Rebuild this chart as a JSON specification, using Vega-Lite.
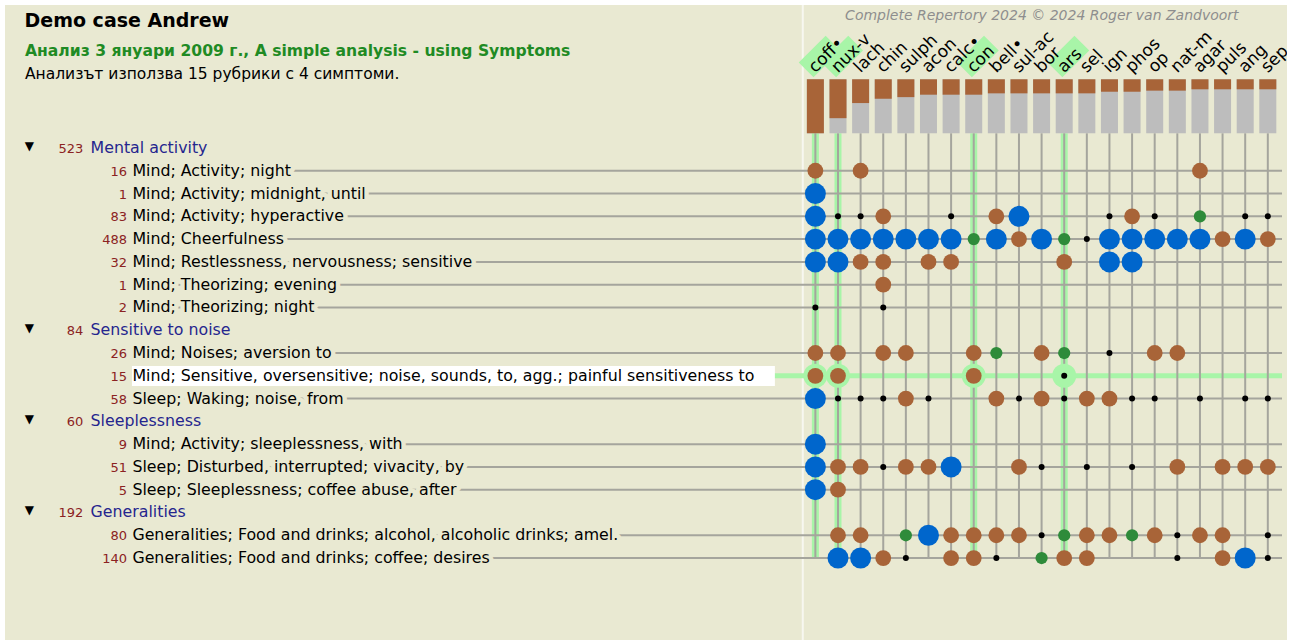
{
  "$schema": "https://vega.github.io/schema/vega-lite/v6.json",
  "width": 1282,
  "height": 635,
  "autosize": "none",
  "padding": {"left": 5, "top": 5, "right": 3, "bottom": 0},
  "background": "#FFFFFF",
  "config": {
    "view": {"fill": "#E9E9D2", "stroke": null},
    "text": {"font": "DejaVu Sans"}
  },
  "datasets": {
    "rem": [
      {"col": 0, "name": "coff•", "score": 100, "hl": true},
      {"col": 1, "name": "nux-v", "score": 72, "hl": true},
      {"col": 2, "name": "lach", "score": 44, "hl": false},
      {"col": 3, "name": "chin", "score": 36, "hl": false},
      {"col": 4, "name": "sulph", "score": 33, "hl": false},
      {"col": 5, "name": "acon", "score": 28.5, "hl": false},
      {"col": 6, "name": "calc•", "score": 28.5, "hl": false},
      {"col": 7, "name": "con", "score": 28.5, "hl": true},
      {"col": 8, "name": "bell•", "score": 26, "hl": false},
      {"col": 9, "name": "sul-ac", "score": 26, "hl": false},
      {"col": 10, "name": "bor", "score": 26, "hl": false},
      {"col": 11, "name": "ars", "score": 26, "hl": true},
      {"col": 12, "name": "sel", "score": 26, "hl": false},
      {"col": 13, "name": "ign", "score": 23, "hl": false},
      {"col": 14, "name": "phos", "score": 23, "hl": false},
      {"col": 15, "name": "op", "score": 21, "hl": false},
      {"col": 16, "name": "nat-m", "score": 21, "hl": false},
      {"col": 17, "name": "agar", "score": 18.5, "hl": false},
      {"col": 18, "name": "puls", "score": 18.5, "hl": false},
      {"col": 19, "name": "ang", "score": 18.5, "hl": false},
      {"col": 20, "name": "sep", "score": 18.5, "hl": false}
    ],
    "rows": [
      {"r": 0, "n": 523, "label": "Mental activity", "group": true},
      {"r": 1, "n": 16, "label": "Mind; Activity; night", "group": false},
      {"r": 2, "n": 1, "label": "Mind; Activity; midnight, until", "group": false},
      {"r": 3, "n": 83, "label": "Mind; Activity; hyperactive", "group": false},
      {"r": 4, "n": 488, "label": "Mind; Cheerfulness", "group": false},
      {"r": 5, "n": 32, "label": "Mind; Restlessness, nervousness; sensitive", "group": false},
      {"r": 6, "n": 1, "label": "Mind; Theorizing; evening", "group": false},
      {"r": 7, "n": 2, "label": "Mind; Theorizing; night", "group": false},
      {"r": 8, "n": 84, "label": "Sensitive to noise", "group": true},
      {"r": 9, "n": 26, "label": "Mind; Noises; aversion to", "group": false},
      {"r": 10, "n": 15, "label": "Mind; Sensitive, oversensitive; noise, sounds, to, agg.; painful sensitiveness to", "group": false},
      {"r": 11, "n": 58, "label": "Sleep; Waking; noise, from", "group": false},
      {"r": 12, "n": 60, "label": "Sleeplessness", "group": true},
      {"r": 13, "n": 9, "label": "Mind; Activity; sleeplessness, with", "group": false},
      {"r": 14, "n": 51, "label": "Sleep; Disturbed, interrupted; vivacity, by", "group": false},
      {"r": 15, "n": 5, "label": "Sleep; Sleeplessness; coffee abuse, after", "group": false},
      {"r": 16, "n": 192, "label": "Generalities", "group": true},
      {"r": 17, "n": 80, "label": "Generalities; Food and drinks; alcohol, alcoholic drinks; amel.", "group": false},
      {"r": 18, "n": 140, "label": "Generalities; Food and drinks; coffee; desires", "group": false}
    ],
    "dots": [
      {"r": 1, "col": 0, "g": 3}, {"r": 1, "col": 2, "g": 3}, {"r": 1, "col": 17, "g": 3},
      {"r": 2, "col": 0, "g": 4},
      {"r": 3, "col": 0, "g": 4}, {"r": 3, "col": 1, "g": 1}, {"r": 3, "col": 2, "g": 1}, {"r": 3, "col": 3, "g": 3}, {"r": 3, "col": 6, "g": 1}, {"r": 3, "col": 8, "g": 3}, {"r": 3, "col": 9, "g": 4}, {"r": 3, "col": 13, "g": 1}, {"r": 3, "col": 14, "g": 3}, {"r": 3, "col": 15, "g": 1}, {"r": 3, "col": 17, "g": 2}, {"r": 3, "col": 19, "g": 1}, {"r": 3, "col": 20, "g": 1},
      {"r": 4, "col": 0, "g": 4}, {"r": 4, "col": 1, "g": 4}, {"r": 4, "col": 2, "g": 4}, {"r": 4, "col": 3, "g": 4}, {"r": 4, "col": 4, "g": 4}, {"r": 4, "col": 5, "g": 4}, {"r": 4, "col": 6, "g": 4}, {"r": 4, "col": 7, "g": 2}, {"r": 4, "col": 8, "g": 4}, {"r": 4, "col": 9, "g": 3}, {"r": 4, "col": 10, "g": 4}, {"r": 4, "col": 11, "g": 2}, {"r": 4, "col": 12, "g": 1}, {"r": 4, "col": 13, "g": 4}, {"r": 4, "col": 14, "g": 4}, {"r": 4, "col": 15, "g": 4}, {"r": 4, "col": 16, "g": 4}, {"r": 4, "col": 17, "g": 4}, {"r": 4, "col": 18, "g": 3}, {"r": 4, "col": 19, "g": 4}, {"r": 4, "col": 20, "g": 3},
      {"r": 5, "col": 0, "g": 4}, {"r": 5, "col": 1, "g": 4}, {"r": 5, "col": 2, "g": 3}, {"r": 5, "col": 3, "g": 3}, {"r": 5, "col": 5, "g": 3}, {"r": 5, "col": 6, "g": 3}, {"r": 5, "col": 11, "g": 3}, {"r": 5, "col": 13, "g": 4}, {"r": 5, "col": 14, "g": 4},
      {"r": 6, "col": 3, "g": 3},
      {"r": 7, "col": 0, "g": 1}, {"r": 7, "col": 3, "g": 1},
      {"r": 9, "col": 0, "g": 3}, {"r": 9, "col": 1, "g": 3}, {"r": 9, "col": 3, "g": 3}, {"r": 9, "col": 4, "g": 3}, {"r": 9, "col": 7, "g": 3}, {"r": 9, "col": 8, "g": 2}, {"r": 9, "col": 10, "g": 3}, {"r": 9, "col": 11, "g": 2}, {"r": 9, "col": 13, "g": 1}, {"r": 9, "col": 15, "g": 3}, {"r": 9, "col": 16, "g": 3},
      {"r": 10, "col": 0, "g": 3}, {"r": 10, "col": 1, "g": 3}, {"r": 10, "col": 7, "g": 3}, {"r": 10, "col": 11, "g": 1},
      {"r": 11, "col": 0, "g": 4}, {"r": 11, "col": 1, "g": 1}, {"r": 11, "col": 2, "g": 1}, {"r": 11, "col": 3, "g": 1}, {"r": 11, "col": 4, "g": 3}, {"r": 11, "col": 5, "g": 1}, {"r": 11, "col": 8, "g": 3}, {"r": 11, "col": 9, "g": 1}, {"r": 11, "col": 10, "g": 3}, {"r": 11, "col": 11, "g": 1}, {"r": 11, "col": 12, "g": 3}, {"r": 11, "col": 13, "g": 3}, {"r": 11, "col": 14, "g": 1}, {"r": 11, "col": 15, "g": 1}, {"r": 11, "col": 17, "g": 1}, {"r": 11, "col": 19, "g": 1}, {"r": 11, "col": 20, "g": 1},
      {"r": 13, "col": 0, "g": 4},
      {"r": 14, "col": 0, "g": 4}, {"r": 14, "col": 1, "g": 3}, {"r": 14, "col": 2, "g": 3}, {"r": 14, "col": 3, "g": 1}, {"r": 14, "col": 4, "g": 3}, {"r": 14, "col": 5, "g": 3}, {"r": 14, "col": 6, "g": 4}, {"r": 14, "col": 9, "g": 3}, {"r": 14, "col": 10, "g": 1}, {"r": 14, "col": 12, "g": 1}, {"r": 14, "col": 14, "g": 1}, {"r": 14, "col": 16, "g": 3}, {"r": 14, "col": 18, "g": 3}, {"r": 14, "col": 19, "g": 3}, {"r": 14, "col": 20, "g": 3},
      {"r": 15, "col": 0, "g": 4}, {"r": 15, "col": 1, "g": 3},
      {"r": 17, "col": 1, "g": 3}, {"r": 17, "col": 2, "g": 3}, {"r": 17, "col": 4, "g": 2}, {"r": 17, "col": 5, "g": 4}, {"r": 17, "col": 6, "g": 3}, {"r": 17, "col": 7, "g": 3}, {"r": 17, "col": 8, "g": 3}, {"r": 17, "col": 9, "g": 3}, {"r": 17, "col": 10, "g": 1}, {"r": 17, "col": 11, "g": 2}, {"r": 17, "col": 12, "g": 3}, {"r": 17, "col": 13, "g": 3}, {"r": 17, "col": 14, "g": 2}, {"r": 17, "col": 15, "g": 3}, {"r": 17, "col": 16, "g": 1}, {"r": 17, "col": 17, "g": 3}, {"r": 17, "col": 18, "g": 3}, {"r": 17, "col": 20, "g": 1},
      {"r": 18, "col": 1, "g": 4}, {"r": 18, "col": 2, "g": 4}, {"r": 18, "col": 3, "g": 3}, {"r": 18, "col": 4, "g": 1}, {"r": 18, "col": 6, "g": 3}, {"r": 18, "col": 7, "g": 3}, {"r": 18, "col": 8, "g": 1}, {"r": 18, "col": 10, "g": 2}, {"r": 18, "col": 11, "g": 3}, {"r": 18, "col": 12, "g": 3}, {"r": 18, "col": 16, "g": 1}, {"r": 18, "col": 18, "g": 3}, {"r": 18, "col": 19, "g": 4}, {"r": 18, "col": 20, "g": 1}
    ]
  },
  "layer": [
    {
      "layer": [
        {
          "data": {"values": [{}]},
          "mark": {"type": "rule", "color": "#F7F7F0", "strokeWidth": 2},
          "encoding": {
            "x": {"datum": -0.557, "type": "quantitative", "scale": {"domain": [-35.601, 20.627], "nice": false, "zero": false}, "axis": null},
            "y": {"datum": -6.2775, "type": "quantitative", "scale": {"domain": [-6.2775, 21.598], "nice": false, "zero": false, "reverse": true}, "axis": null},
            "y2": {"datum": 21.598}
          }
        },
        {
          "data": {"name": "rem"},
          "transform": [{"filter": "datum.hl"}],
          "mark": {"type": "rule", "color": "#A8F5A8", "strokeWidth": 7},
          "encoding": {
            "x": {"field": "col", "type": "quantitative", "scale": {"domain": [-35.601, 20.627], "nice": false, "zero": false}, "axis": null},
            "y": {"datum": -0.645, "type": "quantitative", "scale": {"domain": [-6.2775, 21.598], "nice": false, "zero": false, "reverse": true}, "axis": null},
            "y2": {"datum": 18.0}
          }
        },
        {
          "data": {"name": "rows"},
          "transform": [{"filter": "datum.r == 10"}],
          "mark": {"type": "rule", "color": "#A8F5A8", "strokeWidth": 5},
          "encoding": {
            "x": {"datum": -30.0, "type": "quantitative", "scale": {"domain": [-35.601, 20.627], "nice": false, "zero": false}, "axis": null},
            "x2": {"datum": 20.627},
            "y": {"field": "r", "type": "quantitative", "scale": {"domain": [-6.2775, 21.598], "nice": false, "zero": false, "reverse": true}, "axis": null}
          }
        },
        {
          "data": {"name": "rem"},
          "mark": {"type": "rule", "color": "#A5A59D", "strokeWidth": 2},
          "encoding": {
            "x": {"field": "col", "type": "quantitative", "scale": {"domain": [-35.601, 20.627], "nice": false, "zero": false}, "axis": null},
            "y": {"datum": -0.645, "type": "quantitative", "scale": {"domain": [-6.2775, 21.598], "nice": false, "zero": false, "reverse": true}, "axis": null},
            "y2": {"datum": 18.0}
          }
        },
        {
          "data": {"name": "rows"},
          "transform": [{"filter": "!datum.group && datum.r != 10"}],
          "mark": {"type": "rule", "color": "#A5A59D", "strokeWidth": 2},
          "encoding": {
            "x": {"datum": -30.0, "type": "quantitative", "scale": {"domain": [-35.601, 20.627], "nice": false, "zero": false}, "axis": null},
            "x2": {"datum": 20.627},
            "y": {"field": "r", "type": "quantitative", "scale": {"domain": [-6.2775, 21.598], "nice": false, "zero": false, "reverse": true}, "axis": null}
          }
        },
        {
          "data": {"name": "rows"},
          "transform": [{"filter": "!datum.group && datum.r != 10"}],
          "mark": {"type": "text", "align": "left", "baseline": "middle", "font": "DejaVu Sans", "fontSize": 15.8, "fill": "#E9E9D2", "stroke": "#E9E9D2", "strokeWidth": 9, "strokeJoin": "round"},
          "encoding": {
            "x": {"datum": -30.19, "type": "quantitative", "scale": {"domain": [-35.601, 20.627], "nice": false, "zero": false}, "axis": null},
            "y": {"field": "r", "type": "quantitative", "scale": {"domain": [-6.2775, 21.598], "nice": false, "zero": false, "reverse": true}, "axis": null},
            "text": {"field": "label", "type": "nominal"}
          }
        },
        {
          "data": {"values": [{}]},
          "mark": {"type": "rect", "color": "#FFFFFF"},
          "encoding": {
            "x": {"datum": -30.21, "type": "quantitative", "scale": {"domain": [-35.601, 20.627], "nice": false, "zero": false}, "axis": null},
            "x2": {"datum": -1.79},
            "y": {"datum": 9.57, "type": "quantitative", "scale": {"domain": [-6.2775, 21.598], "nice": false, "zero": false, "reverse": true}, "axis": null},
            "y2": {"datum": 10.45}
          }
        },
        {
          "data": {"name": "rem"},
          "transform": [{"filter": "datum.hl"}],
          "mark": {"type": "circle", "size": 576, "color": "#A8F5A8", "opacity": 1},
          "encoding": {
            "x": {"field": "col", "type": "quantitative", "scale": {"domain": [-35.601, 20.627], "nice": false, "zero": false}, "axis": null},
            "y": {"datum": 10, "type": "quantitative", "scale": {"domain": [-6.2775, 21.598], "nice": false, "zero": false, "reverse": true}, "axis": null}
          }
        },
        {
          "data": {"name": "dots"},
          "mark": {"type": "circle", "opacity": 1, "strokeWidth": 0, "clip": true},
          "encoding": {
            "x": {"field": "col", "type": "quantitative", "scale": {"domain": [-35.601, 20.627], "nice": false, "zero": false}, "axis": null},
            "y": {"field": "r", "type": "quantitative", "scale": {"domain": [-6.2775, 21.598], "nice": false, "zero": false, "reverse": true}, "axis": null},
            "color": {"field": "g", "type": "nominal", "scale": {"domain": [1, 2, 3, 4], "range": ["#000000", "#2E8B3A", "#A86438", "#0066CC"]}, "legend": null},
            "size": {"field": "g", "type": "quantitative", "scale": {"domain": [1, 2, 3, 4], "range": [36, 150, 250, 440], "zero": false, "nice": false}, "legend": null}
          }
        },
        {
          "data": {"name": "rows"},
          "transform": [{"filter": "!datum.group"}],
          "mark": {"type": "text", "align": "left", "baseline": "middle", "font": "DejaVu Sans", "fontSize": 15.8, "color": "#000000"},
          "encoding": {
            "x": {"datum": -30.19, "type": "quantitative", "scale": {"domain": [-35.601, 20.627], "nice": false, "zero": false}, "axis": null},
            "y": {"field": "r", "type": "quantitative", "scale": {"domain": [-6.2775, 21.598], "nice": false, "zero": false, "reverse": true}, "axis": null},
            "text": {"field": "label", "type": "nominal"}
          }
        },
        {
          "data": {"name": "rows"},
          "transform": [{"filter": "!datum.group"}],
          "mark": {"type": "text", "align": "right", "baseline": "middle", "font": "DejaVu Sans", "fontSize": 13, "color": "#8B2222", "dy": 1},
          "encoding": {
            "x": {"datum": -30.43, "type": "quantitative", "scale": {"domain": [-35.601, 20.627], "nice": false, "zero": false}, "axis": null},
            "y": {"field": "r", "type": "quantitative", "scale": {"domain": [-6.2775, 21.598], "nice": false, "zero": false, "reverse": true}, "axis": null},
            "text": {"field": "n", "type": "nominal"}
          }
        },
        {
          "data": {"name": "rows"},
          "transform": [{"filter": "datum.group"}],
          "mark": {"type": "text", "align": "left", "baseline": "middle", "font": "DejaVu Sans", "fontSize": 15.8, "color": "#25258E"},
          "encoding": {
            "x": {"datum": -32.04, "type": "quantitative", "scale": {"domain": [-35.601, 20.627], "nice": false, "zero": false}, "axis": null},
            "y": {"field": "r", "type": "quantitative", "scale": {"domain": [-6.2775, 21.598], "nice": false, "zero": false, "reverse": true}, "axis": null},
            "text": {"field": "label", "type": "nominal"}
          }
        },
        {
          "data": {"name": "rows"},
          "transform": [{"filter": "datum.group"}],
          "mark": {"type": "text", "align": "right", "baseline": "middle", "font": "DejaVu Sans", "fontSize": 13, "color": "#8B2222", "dy": 1},
          "encoding": {
            "x": {"datum": -32.36, "type": "quantitative", "scale": {"domain": [-35.601, 20.627], "nice": false, "zero": false}, "axis": null},
            "y": {"field": "r", "type": "quantitative", "scale": {"domain": [-6.2775, 21.598], "nice": false, "zero": false, "reverse": true}, "axis": null},
            "text": {"field": "n", "type": "nominal"}
          }
        },
        {
          "data": {"name": "rows"},
          "transform": [{"filter": "datum.group"}],
          "mark": {"type": "text", "text": "▼", "align": "center", "baseline": "middle", "font": "DejaVu Sans", "fontSize": 12, "color": "#000000", "dy": -2},
          "encoding": {
            "x": {"datum": -34.75, "type": "quantitative", "scale": {"domain": [-35.601, 20.627], "nice": false, "zero": false}, "axis": null},
            "y": {"field": "r", "type": "quantitative", "scale": {"domain": [-6.2775, 21.598], "nice": false, "zero": false, "reverse": true}, "axis": null}
          }
        },
        {
          "data": {"values": [{}]},
          "mark": {"type": "text", "text": "Demo case Andrew", "align": "left", "baseline": "alphabetic", "font": "DejaVu Sans", "fontSize": 19, "fontWeight": "bold", "color": "#000000"},
          "encoding": {
            "x": {"datum": -34.96, "type": "quantitative", "scale": {"domain": [-35.601, 20.627], "nice": false, "zero": false}, "axis": null},
            "y": {"datum": -5.325, "type": "quantitative", "scale": {"domain": [-6.2775, 21.598], "nice": false, "zero": false, "reverse": true}, "axis": null}
          }
        },
        {
          "data": {"values": [{}]},
          "mark": {"type": "text", "text": "Анализ 3 януари 2009 г., A simple analysis - using Symptoms", "align": "left", "baseline": "alphabetic", "font": "DejaVu Sans", "fontSize": 15.6, "fontWeight": "bold", "color": "#1F8B24"},
          "encoding": {
            "x": {"datum": -34.94, "type": "quantitative", "scale": {"domain": [-35.601, 20.627], "nice": false, "zero": false}, "axis": null},
            "y": {"datum": -4.056, "type": "quantitative", "scale": {"domain": [-6.2775, 21.598], "nice": false, "zero": false, "reverse": true}, "axis": null}
          }
        },
        {
          "data": {"values": [{}]},
          "mark": {"type": "text", "text": "Анализът използва 15 рубрики с 4 симптоми.", "align": "left", "baseline": "alphabetic", "font": "DejaVu Sans", "fontSize": 15.5, "color": "#000000"},
          "encoding": {
            "x": {"datum": -34.94, "type": "quantitative", "scale": {"domain": [-35.601, 20.627], "nice": false, "zero": false}, "axis": null},
            "y": {"datum": -3.047, "type": "quantitative", "scale": {"domain": [-6.2775, 21.598], "nice": false, "zero": false, "reverse": true}, "axis": null}
          }
        },
        {
          "data": {"values": [{}]},
          "mark": {"type": "text", "text": "Complete Repertory 2024 © 2024 Roger van Zandvoort", "align": "center", "baseline": "alphabetic", "font": "DejaVu Sans", "fontSize": 14, "fontStyle": "italic", "color": "#8E8E8E"},
          "encoding": {
            "x": {"datum": 10.01, "type": "quantitative", "scale": {"domain": [-35.601, 20.627], "nice": false, "zero": false}, "axis": null},
            "y": {"datum": -5.619, "type": "quantitative", "scale": {"domain": [-6.2775, 21.598], "nice": false, "zero": false, "reverse": true}, "axis": null}
          }
        },
        {
          "data": {"name": "rem"},
          "transform": [{"filter": "datum.hl"}],
          "mark": {"type": "point", "shape": "M-1,-0.55L1,-0.55L1,0.55L-1,0.55Z", "size": 1444, "angle": -45, "filled": true, "color": "#A8F5A8", "opacity": 1, "strokeWidth": 0, "xOffset": 4.2, "yOffset": -17},
          "encoding": {
            "x": {"field": "col", "type": "quantitative", "scale": {"domain": [-35.601, 20.627], "nice": false, "zero": false}, "axis": null},
            "y": {"datum": -3.27, "type": "quantitative", "scale": {"domain": [-6.2775, 21.598], "nice": false, "zero": false, "reverse": true}, "axis": null}
          }
        },
        {
          "data": {"name": "rem"},
          "mark": {"type": "text", "angle": -45, "align": "left", "baseline": "alphabetic", "font": "DejaVu Sans", "fontSize": 17, "color": "#000000", "clip": true},
          "encoding": {
            "x": {"field": "col", "type": "quantitative", "scale": {"domain": [-35.601, 20.627], "nice": false, "zero": false}, "axis": null},
            "y": {"datum": -3.27, "type": "quantitative", "scale": {"domain": [-6.2775, 21.598], "nice": false, "zero": false, "reverse": true}, "axis": null},
            "text": {"field": "name", "type": "nominal"}
          }
        }
      ]
    },
    {
      "layer": [
        {
          "data": {"name": "rem"},
          "mark": {"type": "bar", "width": 17, "color": "#BDBDBD", "orient": "vertical"},
          "encoding": {
            "x": {"field": "col", "type": "quantitative", "scale": {"domain": [-35.601, 20.627], "nice": false, "zero": false}, "axis": null},
            "y": {"datum": 100, "type": "quantitative", "scale": {"domain": [-137.6, 1038.3], "nice": false, "zero": false, "reverse": true}, "axis": null}
          }
        },
        {
          "data": {"name": "rem"},
          "mark": {"type": "bar", "width": 17, "color": "#A86438", "orient": "vertical"},
          "encoding": {
            "x": {"field": "col", "type": "quantitative", "scale": {"domain": [-35.601, 20.627], "nice": false, "zero": false}, "axis": null},
            "y": {"field": "score", "type": "quantitative", "scale": {"domain": [-137.6, 1038.3], "nice": false, "zero": false, "reverse": true}, "axis": null}
          }
        }
      ]
    }
  ],
  "resolve": {"scale": {"y": "independent"}}
}
